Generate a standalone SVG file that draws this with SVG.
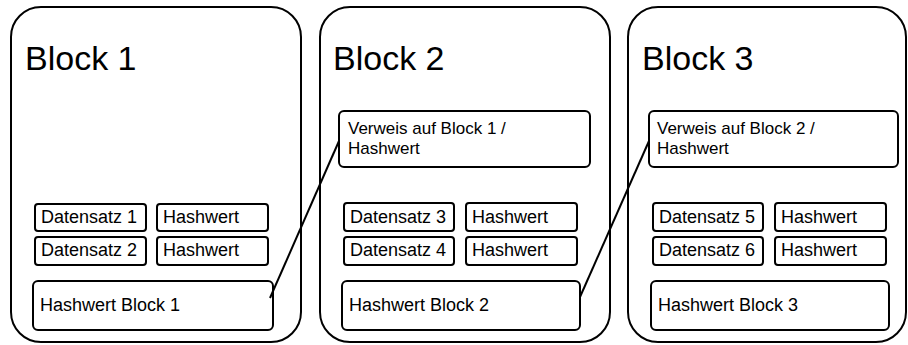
<svg xmlns="http://www.w3.org/2000/svg" width="908" height="345" viewBox="0 0 908 345">
<style>
.outer{fill:#fff;stroke:#000;stroke-width:2}
.box{fill:#fff;stroke:#000;stroke-width:2}
.t{font-family:"Liberation Sans",Arial,sans-serif;font-size:18px;fill:#000}
.t2{font-family:"Liberation Sans",Arial,sans-serif;font-size:17px;fill:#000}
.title{font-family:"Liberation Sans",Arial,sans-serif;font-size:34px;fill:#000}
.conn{fill:none;stroke:#000;stroke-width:2}
</style>
<rect width="908" height="345" fill="#fff"/>
<g id="block1">
<rect class="outer" x="11" y="7" width="290" height="335" rx="30"/>
<text class="title" x="25" y="70">Block 1</text>
<g id="b1-d1"><rect class="box" x="35" y="204" width="111" height="27" rx="3"/><text class="t" x="41" y="223">Datensatz 1</text></g>
<g id="b1-h1"><rect class="box" x="157" y="204" width="111" height="27" rx="3"/><text class="t" x="163" y="223">Hashwert</text></g>
<g id="b1-d2"><rect class="box" x="35" y="237" width="111" height="28" rx="3"/><text class="t" x="41" y="256">Datensatz 2</text></g>
<g id="b1-h2"><rect class="box" x="157" y="237" width="111" height="28" rx="3"/><text class="t" x="163" y="256">Hashwert</text></g>
<g id="b1-hb"><rect class="box" x="33" y="281" width="240" height="49" rx="5"/><text class="t" x="40" y="311">Hashwert Block 1</text></g>
</g>
<g id="block2">
<rect class="outer" x="320" y="7" width="290" height="335" rx="30"/>
<text class="title" x="333" y="70">Block 2</text>
<g id="b2-ref"><rect class="box" x="339" y="111" width="251" height="56" rx="5"/><text class="t2" x="348" y="134">Verweis auf Block 1 /</text><text class="t2" x="348" y="154">Hashwert</text></g>
<g id="b2-d3"><rect class="box" x="344" y="203" width="110" height="28" rx="3"/><text class="t" x="350" y="223">Datensatz 3</text></g>
<g id="b2-h3"><rect class="box" x="466" y="203" width="111" height="28" rx="3"/><text class="t" x="472" y="223">Hashwert</text></g>
<g id="b2-d4"><rect class="box" x="344" y="237" width="110" height="28" rx="3"/><text class="t" x="350" y="256">Datensatz 4</text></g>
<g id="b2-h4"><rect class="box" x="466" y="237" width="111" height="28" rx="3"/><text class="t" x="472" y="256">Hashwert</text></g>
<g id="b2-hb"><rect class="box" x="342" y="281" width="238" height="49" rx="5"/><text class="t" x="349" y="311">Hashwert Block 2</text></g>
</g>
<g id="block3">
<rect class="outer" x="628" y="7" width="278" height="335" rx="30"/>
<text class="title" x="642" y="70">Block 3</text>
<g id="b3-ref"><rect class="box" x="649" y="111" width="249" height="56" rx="5"/><text class="t2" x="657" y="134">Verweis auf Block 2 /</text><text class="t2" x="657" y="154">Hashwert</text></g>
<g id="b3-d5"><rect class="box" x="653" y="203" width="110" height="28" rx="3"/><text class="t" x="659" y="223">Datensatz 5</text></g>
<g id="b3-h5"><rect class="box" x="775" y="203" width="111" height="28" rx="3"/><text class="t" x="781" y="223">Hashwert</text></g>
<g id="b3-d6"><rect class="box" x="653" y="237" width="110" height="28" rx="3"/><text class="t" x="659" y="256">Datensatz 6</text></g>
<g id="b3-h6"><rect class="box" x="775" y="237" width="111" height="28" rx="3"/><text class="t" x="781" y="256">Hashwert</text></g>
<g id="b3-hb"><rect class="box" x="651" y="281" width="238" height="49" rx="5"/><text class="t" x="658" y="311">Hashwert Block 3</text></g>
</g>
<g id="connectors">
<line class="conn" x1="270" y1="298" x2="339" y2="141"/>
<line class="conn" x1="580" y1="297" x2="649" y2="141"/>
</g>
</svg>
